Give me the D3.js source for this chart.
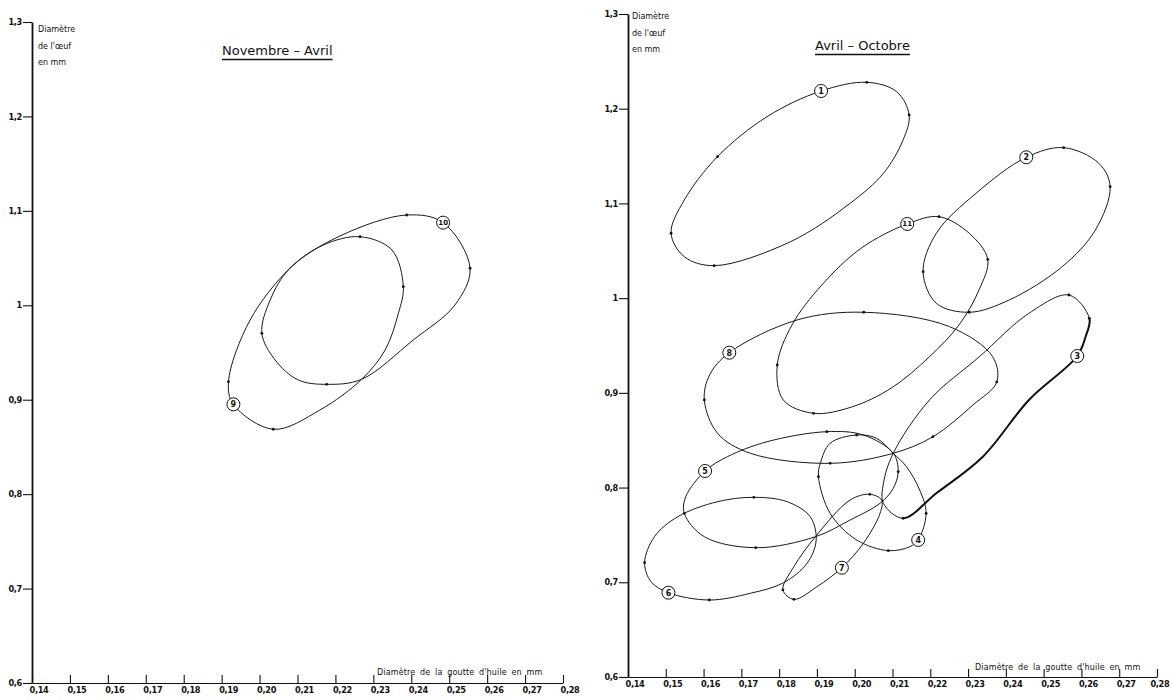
<!DOCTYPE html>
<html>
<head>
<meta charset="utf-8">
<script src="https://cdn.jsdelivr.net/npm/d3@7"></script>
<style>
  body { margin: 0; background: #fff; }
  svg { display: block; font-family: "DejaVu Sans", sans-serif; }
</style>
</head>
<body>
<svg id="chart" width="1172" height="700"></svg>
<script>
// axis ticks (french decimal comma)
const xTicks = [0.14, 0.15, 0.16, 0.17, 0.18, 0.19, 0.20, 0.21, 0.22, 0.23, 0.24, 0.25, 0.26, 0.27, 0.28];
const xTickLabels = ["0,14", "0,15", "0,16", "0,17", "0,18", "0,19", "0,20", "0,21", "0,22", "0,23", "0,24", "0,25", "0,26", "0,27", "0,28"];
const yTicks = [0.6, 0.7, 0.8, 0.9, 1.0, 1.1, 1.2, 1.3];
const yTickLabels = ["0,6", "0,7", "0,8", "0,9", "1", "1,1", "1,2", "1,3"];

const yTitle = ["Diamètre", "de l'œuf", "en mm"];
const xTitle = "Diamètre de la goutte d'huile en mm";

// [diam. goutte, diam. oeuf, point marked?] - first point is where the number sits
const curve9 = [
  [0.1931, 0.8951, 0], [0.2036, 0.8687, 1], [0.2159, 0.8891, 0], [0.2269, 0.9216, 0],
  [0.2331, 0.9526, 0], [0.2366, 0.9915, 0], [0.2379, 1.0197, 1], [0.2349, 1.0585, 0],
  [0.2265, 1.0726, 1], [0.2168, 1.0638, 0], [0.2080, 1.0392, 0], [0.1975, 0.9844, 0],
  [0.1918, 0.9191, 1]
];
const curve10 = [
  [0.2484, 1.0875, 0], [0.2555, 1.0392, 1], [0.2515, 1.0003, 0], [0.2405, 0.9632, 0],
  [0.2269, 0.9216, 0], [0.2177, 0.9163, 1], [0.2102, 0.9209, 0], [0.2041, 0.9421, 0],
  [0.2006, 0.9703, 1], [0.2028, 1.0056, 0], [0.2080, 1.0392, 0], [0.2212, 1.0734, 0],
  [0.2388, 1.0956, 1]
];

const curve1 = [
  [0.1911, 1.2187, 0], [0.2032, 1.2279, 1], [0.2111, 1.2180, 0], [0.2144, 1.1934, 1],
  [0.2128, 1.1670, 0], [0.2076, 1.1318, 0], [0.1988, 1.1002, 0], [0.1830, 1.0596, 0],
  [0.1628, 1.0343, 1], [0.1549, 1.0438, 0], [0.1514, 1.0685, 1], [0.1549, 1.1036, 0],
  [0.1637, 1.1494, 1], [0.1768, 1.1916, 0]
];
const curve2 = [
  [0.2454, 1.1487, 0], [0.2553, 1.1589, 1], [0.2646, 1.1424, 0], [0.2676, 1.1177, 1],
  [0.2637, 1.0720, 0], [0.2549, 1.0332, 0], [0.2409, 0.9981, 0], [0.2303, 0.9851, 1],
  [0.2216, 0.9946, 0], [0.2181, 1.0279, 1], [0.2216, 1.0685, 0], [0.2321, 1.1107, 0]
];
const curve3 = [
  [0.2589, 0.9389, 0], [0.2461, 0.8925, 0], [0.2339, 0.8326, 0], [0.2216, 0.7940, 0],
  [0.2128, 0.7676, 1], [0.2076, 0.7834, 0], [0.2076, 0.8045, 0], [0.2102, 0.8362, 0],
  [0.2198, 0.8925, 0], [0.2330, 0.9382, 0], [0.2461, 0.9840, 0], [0.2567, 1.0033, 1],
  [0.2621, 0.9787, 1], [0.2611, 0.9593, 0]
];
const curve4 = [
  [0.2168, 0.7447, 0], [0.2189, 0.7728, 1], [0.2172, 0.7974, 0], [0.2137, 0.8220, 0],
  [0.2102, 0.8362, 0], [0.2058, 0.8520, 0], [0.2005, 0.8555, 1], [0.1935, 0.8468, 0],
  [0.1909, 0.8256, 0], [0.1904, 0.8115, 1], [0.1935, 0.7728, 0], [0.2005, 0.7447, 0],
  [0.2089, 0.7334, 1], [0.2146, 0.7376, 0]
];
const curve5 = [
  [0.1604, 0.8175, 0], [0.1663, 0.8326, 0], [0.1768, 0.8484, 0], [0.1926, 0.8590, 1],
  [0.2023, 0.8555, 0], [0.2102, 0.8362, 0], [0.2115, 0.8168, 1], [0.2102, 0.7992, 0],
  [0.2067, 0.7834, 0], [0.1988, 0.7658, 0], [0.1896, 0.7481, 0], [0.1738, 0.7365, 1],
  [0.1602, 0.7481, 0], [0.1549, 0.7728, 1], [0.1553, 0.7904, 0]
];
const curve6 = [
  [0.1507, 0.6890, 0], [0.1615, 0.6813, 1], [0.1724, 0.6884, 0], [0.1812, 0.6996, 0],
  [0.1874, 0.7201, 0], [0.1898, 0.7447, 0], [0.1882, 0.7693, 0], [0.1821, 0.7851, 0],
  [0.1733, 0.7897, 1], [0.1637, 0.7851, 0], [0.1532, 0.7693, 0], [0.1470, 0.7481, 0],
  [0.1444, 0.7207, 1], [0.1461, 0.7006, 0]
];
const curve7 = [
  [0.1966, 0.7154, 0], [0.2023, 0.7412, 0], [0.2067, 0.7728, 0], [0.2071, 0.7869, 0],
  [0.2040, 0.7929, 1], [0.1988, 0.7869, 0], [0.1896, 0.7481, 0], [0.1839, 0.7165, 0],
  [0.1810, 0.6919, 1], [0.1839, 0.6820, 1], [0.1900, 0.6953, 0]
];
const curve8 = [
  [0.1668, 0.9424, 0], [0.1847, 0.9769, 0], [0.2024, 0.9851, 1], [0.2251, 0.9699, 0],
  [0.2365, 0.9382, 0], [0.2376, 0.9115, 1], [0.2313, 0.8872, 0], [0.2207, 0.8537, 1],
  [0.2102, 0.8362, 0], [0.1935, 0.8256, 1], [0.1724, 0.8362, 0], [0.1637, 0.8573, 0],
  [0.1602, 0.8925, 1], [0.1616, 0.9189, 0]
];
const curve11 = [
  [0.2139, 1.0783, 0], [0.2223, 1.0860, 1], [0.2303, 1.0685, 0], [0.2352, 1.0410, 1],
  [0.2329, 1.0086, 0], [0.2276, 0.9717, 0], [0.2198, 0.9382, 0], [0.2097, 0.9051, 0],
  [0.1992, 0.8851, 0], [0.1891, 0.8784, 1], [0.1811, 0.8925, 0], [0.1795, 0.9294, 1],
  [0.1834, 0.9717, 0], [0.1913, 1.0139, 0], [0.2018, 1.0530, 0]
];

// curve 3 is inked heavier on its lower side: from this point, through the label, to the bottom
const heavyStretch = { curve: "3", from: 12, to: 4 };

// two panels, same axes, different placement on the sheet
const panels = [
  {
    title: "Novembre – Avril", titleX: 222, titleY: 55,
    xRange: [32, 563], yRange: [683, 22],
    yTitlePos: [38, 32], xTitlePos: [377, 675],
    curves: [["9", curve9], ["10", curve10]]
  },
  {
    title: "Avril – Octobre", titleX: 815, titleY: 50,
    xRange: [628, 1157], yRange: [677, 14],
    yTitlePos: [632, 19], xTitlePos: [975, 670],
    curves: [["1", curve1], ["2", curve2], ["3", curve3], ["4", curve4], ["5", curve5],
             ["6", curve6], ["7", curve7], ["8", curve8], ["11", curve11]]
  }
];

const svg = d3.select('#chart');
svg.append('rect').attr('width', 1172).attr('height', 700).attr('fill', '#fff');

// length along a path closest to a given point
function lengthNear(node, px, py) {
  const total = node.getTotalLength();
  let best = 0, bestD = Infinity;
  for (let l = 0; l <= total; l += 0.5) {
    const q = node.getPointAtLength(l);
    const d = (q.x - px) ** 2 + (q.y - py) ** 2;
    if (d < bestD) { bestD = d; best = l; }
  }
  return best;
}

panels.forEach(p => {
  const x = d3.scaleLinear().domain([0.14, 0.28]).range(p.xRange);
  const y = d3.scaleLinear().domain([0.6, 1.3]).range(p.yRange);
  const g = svg.append('g');

  // y axis, ticks to the left
  const yAxis = g.append('g')
    .attr('transform', `translate(${x(0.14)},0)`)
    .call(d3.axisLeft(y).tickValues(yTicks)
      .tickFormat((d, i) => yTickLabels[i])
      .tickSize(9).tickSizeOuter(0).tickPadding(1));

  // x axis, ticks pointing up, labels below
  const xAxis = g.append('g')
    .attr('transform', `translate(0,${y(0.6)})`)
    .call(d3.axisBottom(x).tickValues(xTicks)
      .tickFormat((d, i) => xTickLabels[i])
      .tickSize(-8).tickSizeOuter(0).tickPadding(4));

  yAxis.select('.domain').attr('stroke', '#111').attr('stroke-width', 1.8);
  xAxis.select('.domain').attr('stroke', '#111').attr('stroke-width', 1.2);
  [yAxis, xAxis].forEach(a => {
    a.selectAll('.tick line').attr('stroke', '#111').attr('stroke-width', 1.1);
    a.selectAll('.tick text')
      .attr('fill', '#111')
      .attr('font-family', '"DejaVu Sans", sans-serif')
      .attr('font-size', 8.2)
      .attr('font-weight', 'bold')
      .attr('letter-spacing', -0.3);
  });
  xAxis.selectAll('.tick text')
    .attr('text-anchor', 'start').attr('dx', -3)
    .each(function () {
      // last label of the right panel sits on the sheet edge: pull it back inside
      const box = this.getBoundingClientRect();
      if (box.right > 1170) d3.select(this).attr('dx', -3 - (box.right - 1170));
    });

  // axis titles
  const yt = g.append('text')
    .attr('x', p.yTitlePos[0]).attr('y', p.yTitlePos[1])
    .attr('font-size', 8).attr('fill', '#111');
  yTitle.forEach((line, i) => {
    yt.append('tspan').attr('x', p.yTitlePos[0]).attr('dy', i === 0 ? 0 : 16.5).text(line);
  });

  g.append('text')
    .attr('x', p.xTitlePos[0]).attr('y', p.xTitlePos[1])
    .attr('font-size', 8).attr('fill', '#111')
    .attr('letter-spacing', 0.15).attr('word-spacing', 2)
    .text(xTitle);

  // underlined period title
  const t = g.append('text')
    .attr('x', p.titleX).attr('y', p.titleY)
    .attr('font-size', 13).attr('fill', '#111')
    .text(p.title);
  const tw = t.node().getComputedTextLength();
  g.append('line')
    .attr('x1', p.titleX).attr('x2', p.titleX + tw)
    .attr('y1', p.titleY + 4.5).attr('y2', p.titleY + 4.5)
    .attr('stroke', '#111').attr('stroke-width', 1.3);

  const line = d3.line()
    .x(d => x(d[0]))
    .y(d => y(d[1]))
    .curve(d3.curveCatmullRomClosed.alpha(0.5));

  p.curves.forEach(([num, pts]) => {
    const path = g.append('path')
      .attr('d', line(pts))
      .attr('fill', 'none')
      .attr('stroke', '#1a1a1a')
      .attr('stroke-width', 1);

    if (num === heavyStretch.curve) {
      const node = path.node();
      const total = node.getTotalLength();
      const a = pts[heavyStretch.from], b = pts[heavyStretch.to];
      const la = lengthNear(node, x(a[0]), y(a[1]));
      const lb = lengthNear(node, x(b[0]), y(b[1]));
      // closed path runs la -> end -> start -> lb
      g.append('path')
        .attr('d', line(pts))
        .attr('fill', 'none')
        .attr('stroke', '#111')
        .attr('stroke-width', 2)
        .attr('stroke-dasharray', `${lb} ${la - lb} ${total - la}`);
    }

    g.selectAll(null)
      .data(pts.filter(d => d[2]))
      .enter()
      .append('circle')
      .attr('cx', d => x(d[0]))
      .attr('cy', d => y(d[1]))
      .attr('r', 1.4)
      .attr('fill', '#111');

    const lbl = g.append('g')
      .attr('transform', `translate(${x(pts[0][0])},${y(pts[0][1])})`);
    lbl.append('circle')
      .attr('r', 6.5)
      .attr('fill', '#fff')
      .attr('stroke', '#111')
      .attr('stroke-width', 1);
    lbl.append('text')
      .attr('text-anchor', 'middle')
      .attr('dy', '0.35em')
      .attr('font-size', num.length > 1 ? 7 : 8)
      .attr('font-weight', 'bold')
      .attr('fill', '#111')
      .text(num);
  });
});
</script>
</body>
</html>
